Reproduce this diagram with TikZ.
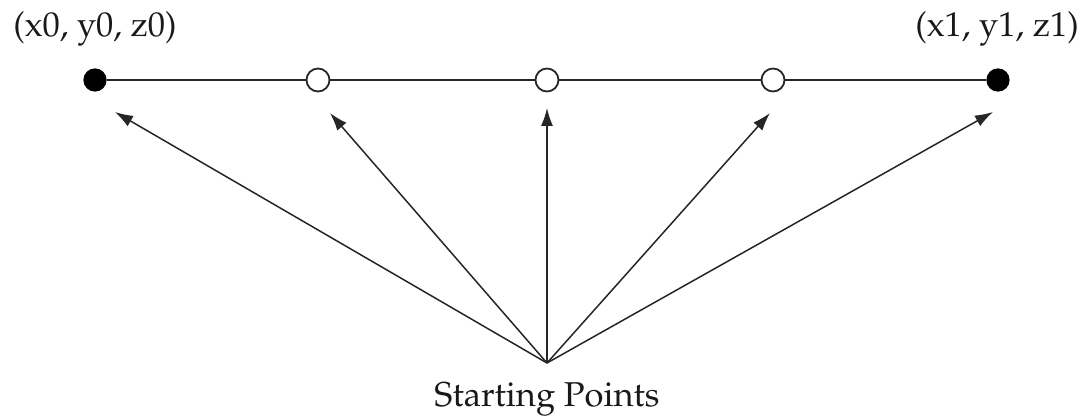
\documentclass[tikz,border=0pt]{standalone}
\usepackage[T1]{fontenc}
\usepackage{mathpazo}
\usetikzlibrary{arrows.meta}
\begin{document}
\begin{tikzpicture}[x=1pt,y=-1pt,
  dotfull/.style={circle,fill=black,draw=black,line width=1.2pt,minimum size=22pt,inner sep=0pt},
  dotopen/.style={circle,fill=white,draw=black!85,line width=1.8pt,minimum size=23pt,inner sep=0pt},
  lbl/.style={inner sep=0pt,font=\fontsize{34.5}{40}\selectfont,text=black!90},
  arr/.style={-{Latex[length=18pt,width=12pt]},line width=1.5pt,draw=black!85}]
\useasboundingbox (0,0) rectangle (1085,417);
\node[dotfull] (p0) at (95,80) {};
\node[dotopen] (p1) at (318,80) {};
\node[dotopen] (p2) at (547,80) {};
\node[dotopen] (p3) at (773,80) {};
\node[dotfull] (p4) at (998,80) {};
\draw[line width=1.8pt,black!85] (p0) -- (p1) -- (p2) -- (p3) -- (p4);
\node[lbl] (l0) at (95,29) {(x0, y0, z0)};
\node[lbl] (l1) at (997,29) {(x1, y1, z1)};
\node[lbl,anchor=base] (sp) at (547,406) {Starting Points};
\coordinate (apex) at (547,363);
\coordinate (t0) at (115,112);
\coordinate (t1) at (330,113);
\coordinate (t2) at (547,108);
\coordinate (t3) at (770,113);
\coordinate (t4) at (993,112);
\foreach \t in {t0,t1,t2,t3,t4} \draw[arr] (apex) -- (\t);
\end{tikzpicture}
\end{document}
